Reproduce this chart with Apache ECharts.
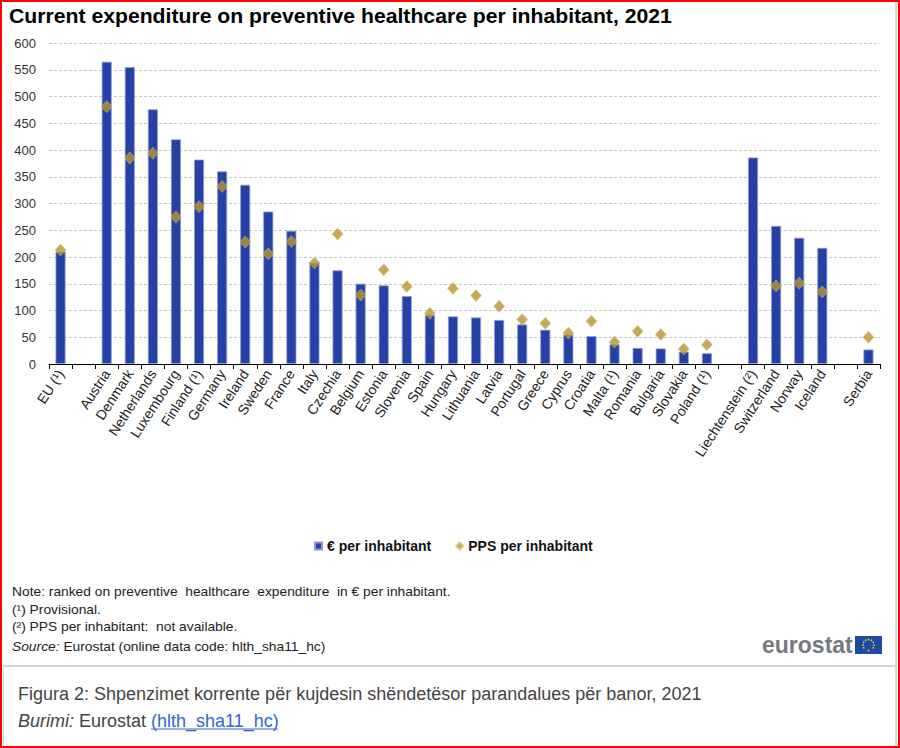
<!DOCTYPE html>
<html>
<head>
<meta charset="utf-8">
<script src="https://cdn.jsdelivr.net/npm/echarts@6/dist/echarts.min.js"></script>
<style>
html,body{margin:0;padding:0;background:#fff;}
#chart{width:900px;height:748px;}
</style>
</head>
<body>
<div id="chart"></div>
<script>
const categories = ['EU (¹)', ' ', 'Austria', 'Denmark', 'Netherlands', 'Luxembourg', 'Finland (¹)', 'Germany', 'Ireland', 'Sweden', 'France', 'Italy', 'Czechia', 'Belgium', 'Estonia', 'Slovenia', 'Spain', 'Hungary', 'Lithuania', 'Latvia', 'Portugal', 'Greece', 'Cyprus', 'Croatia', 'Malta (¹)', 'Romania', 'Bulgaria', 'Slovakia', 'Poland (¹)', '  ', 'Liechtenstein (²)', 'Switzerland', 'Norway', 'Iceland', '   ', 'Serbia'];
const euroPerInhabitant = [210, null, 565, 555, 476, 420, 382, 360, 335, 285, 249, 189, 175, 150, 147, 127, 92, 89, 87, 82, 74, 64, 55, 52, 37, 30, 29, 23, 20, null, 386, 258, 236, 217, null, 27];
const ppsPerInhabitant = [213, null, 481, 385, 394, 275, 294, 332, 228, 206, 229, 189, 243, 129, 176, 145, 95, 141, 128, 108, 83, 76, 58, 80, 41, 61, 55, 28, 36, null, null, 146, 151, 135, null, 50];
const yTicks = [0, 50, 100, 150, 200, 250, 300, 350, 400, 450, 500, 550, 600];
const seriesNames = ['€ per inhabitant', 'PPS per inhabitant'];
const titleText = 'Current expenditure on preventive healthcare per inhabitant, 2021';
const noteLines = [
  'Note: ranked on preventive  healthcare  expenditure  in € per inhabitant.',
  '(¹) Provisional.',
  '(²) PPS per inhabitant:  not available.'
];
const captionText = 'Figura 2: Shpenzimet korrente për kujdesin shëndetësor parandalues për banor, 2021';

const FONT = '"Liberation Sans", Arial, sans-serif';
const chart = echarts.init(document.getElementById('chart'), null, {renderer: 'svg'});

const stars = [];
for (let i = 0; i < 12; i++) {
  const a = i * Math.PI / 6;
  stars.push({type: 'circle', shape: {cx: 868.5 + 5.5 * Math.cos(a), cy: 645 + 5.5 * Math.sin(a), r: 0.8}, style: {fill: '#f5d800'}});
}

function txt(x, y, text, font, fill, sx, rich) {
  return {
    type: 'text', x: x, y: y, scaleX: sx || 1, scaleY: 1,
    style: {text: text, font: font, fill: fill, align: 'left', verticalAlign: 'middle', rich: rich || undefined}
  };
}

const NOTE_SX = 1.15;
const option = {
  backgroundColor: '#fff',
  animation: false,
  grid: {left: 49, right: 20, top: 43, bottom: 384, containLabel: false},
  legend: {
    left: 309, top: 534,
    itemWidth: 7, itemHeight: 7, itemGap: 24,
    textStyle: {fontFamily: FONT, fontSize: 14, fontWeight: 'bold', color: '#111'},
    data: [{name: seriesNames[0], icon: 'rect'}, {name: seriesNames[1], icon: 'diamond'}]
  },
  xAxis: {
    type: 'category', data: categories,
    axisLine: {lineStyle: {color: '#000', width: 1}},
    axisTick: {show: true, length: 5, interval: 0, lineStyle: {color: '#000'}},
    axisLabel: {interval: 0, rotate: 57, margin: 7, fontFamily: FONT, fontSize: 14, color: '#222'},
    splitLine: {show: false}
  },
  yAxis: {
    type: 'value', min: yTicks[0], max: yTicks[yTicks.length - 1], interval: 50,
    axisLine: {show: false}, axisTick: {show: false},
    axisLabel: {margin: 13, fontFamily: FONT, fontSize: 13, color: '#333'},
    splitLine: {lineStyle: {color: '#c8c8c8', type: [3, 2], width: 1}}
  },
  series: [
    {
      name: seriesNames[0], type: 'bar', barWidth: 10,
      data: euroPerInhabitant.map(v => v === null ? '-' : v),
      itemStyle: {color: '#2541a6', borderColor: '#8c9bd6', borderWidth: 0.8}
    },
    {
      name: seriesNames[1], type: 'scatter', symbol: 'diamond', symbolSize: [11, 12],
      data: ppsPerInhabitant.map(v => v === null ? '-' : v),
      itemStyle: {color: '#b9952f', borderColor: '#d6c07a', borderWidth: 0.6},
      z: 3
    }
  ],
  graphic: [
    {type: 'rect', shape: {x: 1, y: 1, width: 898, height: 746}, style: {fill: 'none', stroke: '#ff0000', lineWidth: 2}, silent: true},
    {type: 'line', shape: {x1: 896, y1: 2, x2: 896, y2: 746}, style: {stroke: '#d8d8d8', lineWidth: 2}},
    {type: 'line', shape: {x1: 3, y1: 666, x2: 896, y2: 666}, style: {stroke: '#d4d4d4', lineWidth: 2}},
    {type: 'line', shape: {x1: 3.5, y1: 666, x2: 3.5, y2: 746}, style: {stroke: '#d8d8d8', lineWidth: 1}},
    txt(9, 16, titleText, 'bold 20px ' + FONT, '#000', 1.06),
    txt(12, 592, noteLines[0], '12px ' + FONT, '#222', NOTE_SX),
    txt(12, 610, noteLines[1], '12px ' + FONT, '#222', NOTE_SX),
    txt(12, 627, noteLines[2], '12px ' + FONT, '#222', NOTE_SX),
    txt(12, 647, '{i|Source:} Eurostat (online data code: hlth_sha11_hc)', '12px ' + FONT, '#222', NOTE_SX,
      {i: {fontStyle: 'italic', fontSize: 12, fontFamily: FONT, fill: '#222'}}),
    txt(762, 645, 'eurostat', 'bold 23px ' + FONT, '#767a80', 1),
    {type: 'rect', shape: {x: 855, y: 636, width: 27, height: 18}, style: {fill: '#1c4aa6'}},
    ...stars,
    txt(18, 694, captionText, '18px ' + FONT, '#444', 1),
    txt(18, 721, '{i|Burimi:} Eurostat {a|(hlth_sha11_hc)}', '18px ' + FONT, '#444', 1, {
      i: {fontStyle: 'italic', fontSize: 18, fontFamily: FONT, fill: '#444'},
      a: {fontSize: 18, fontFamily: FONT, fill: '#3366cc'}
    }),
    {type: 'line', shape: {x1: 151, y1: 729, x2: 278, y2: 729}, style: {stroke: '#3366cc', lineWidth: 1}}
  ]
};
chart.setOption(option);
</script>
</body>
</html>
